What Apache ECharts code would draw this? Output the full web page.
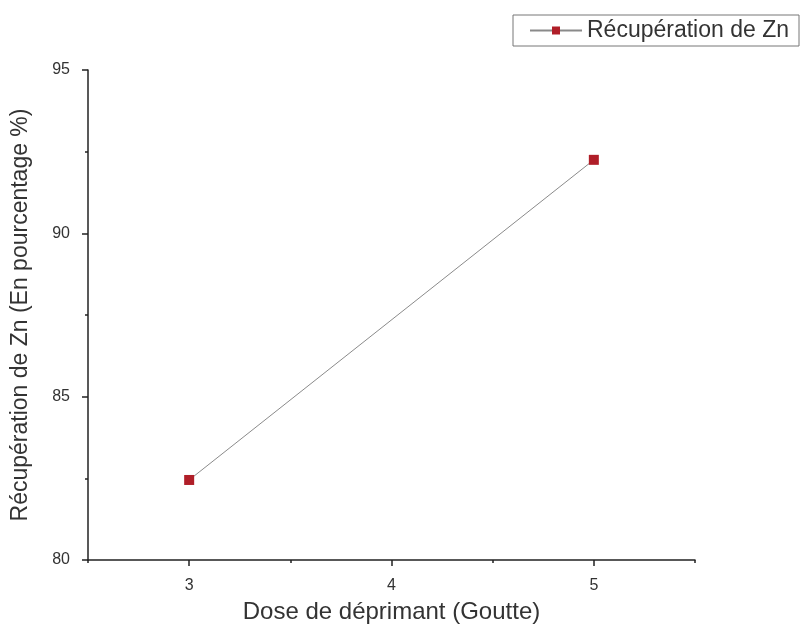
<!DOCTYPE html>
<html><head><meta charset="utf-8">
<script src="https://cdn.jsdelivr.net/npm/echarts@6/dist/echarts.min.js"></script>
<style>html,body{margin:0;padding:0;background:#fff}#c{width:805px;height:635px}</style>
</head><body><div id="c"></div>
<script>
var seriesName = 'Récupération de Zn';
var xValues = [3, 5];
var yValues = [82.45, 92.25];
var xMajorTicks = [3, 4, 5];
var xMinorTicks = [2.5, 3.5, 4.5, 5.5];
var yMajorTicks = [80, 85, 90, 95];
var yMinorTicks = [82.5, 87.5, 92.5];
var font = 'Liberation Sans, Arial, sans-serif';
var chart = echarts.init(document.getElementById('c'));
var axisCommon = {
  axisLine: {show: true, lineStyle: {color: '#222', width: 1.5}},
  splitLine: {show: false}
};
chart.setOption({
  animation: false,
  legend: {
    data: [seriesName], left: 513, top: 15, padding: [4, 10, 4, 16],
    borderColor: '#777', borderWidth: 1, itemWidth: 52, itemHeight: 10, itemGap: 5,
    textStyle: {fontFamily: font, fontSize: 23, color: '#333'}
  },
  grid: {left: 88, right: 110, top: 70, bottom: 75, containLabel: false, outerBoundsMode: 'none'},
  xAxis: [
    Object.assign({}, axisCommon, {
      type: 'value', min: 2.5, max: 5.5,
      name: 'Dose de déprimant (Goutte)', nameLocation: 'middle', nameGap: 40,
      nameTextStyle: {fontFamily: font, fontSize: 24, color: '#333'},
      axisTick: {show: true, length: 6, customValues: xMajorTicks, lineStyle: {color: '#222', width: 1.5}},
      axisLabel: {show: true, customValues: xMajorTicks, margin: 18, fontFamily: font, fontSize: 16, color: '#333'}
    }),
    {
      type: 'value', min: 2.5, max: 5.5, position: 'bottom',
      axisLine: {show: false}, splitLine: {show: false}, axisLabel: {show: false},
      axisTick: {show: true, length: 3, customValues: xMinorTicks, lineStyle: {color: '#222', width: 1.5}}
    }
  ],
  yAxis: [
    Object.assign({}, axisCommon, {
      type: 'value', min: 80, max: 95,
      name: 'Récupération de Zn (En pourcentage %)', nameLocation: 'middle', nameGap: 56,
      nameTextStyle: {fontFamily: font, fontSize: 23, color: '#333'},
      axisTick: {show: true, length: 6, customValues: yMajorTicks, lineStyle: {color: '#222', width: 1.5}},
      axisLabel: {show: true, customValues: yMajorTicks, margin: 18, fontFamily: font, fontSize: 16, color: '#333'}
    }),
    {
      type: 'value', min: 80, max: 95, position: 'left',
      axisLine: {show: false}, splitLine: {show: false}, axisLabel: {show: false},
      axisTick: {show: true, length: 3, customValues: yMinorTicks, lineStyle: {color: '#222', width: 1.5}}
    }
  ],
  series: [{
    name: seriesName, type: 'line',
    data: xValues.map(function (x, i) { return [x, yValues[i]]; }),
    symbol: 'rect', symbolSize: 10,
    lineStyle: {color: '#8a8a8a', width: 1},
    itemStyle: {color: '#b01e28'}
  }]
});
</script></body></html>
